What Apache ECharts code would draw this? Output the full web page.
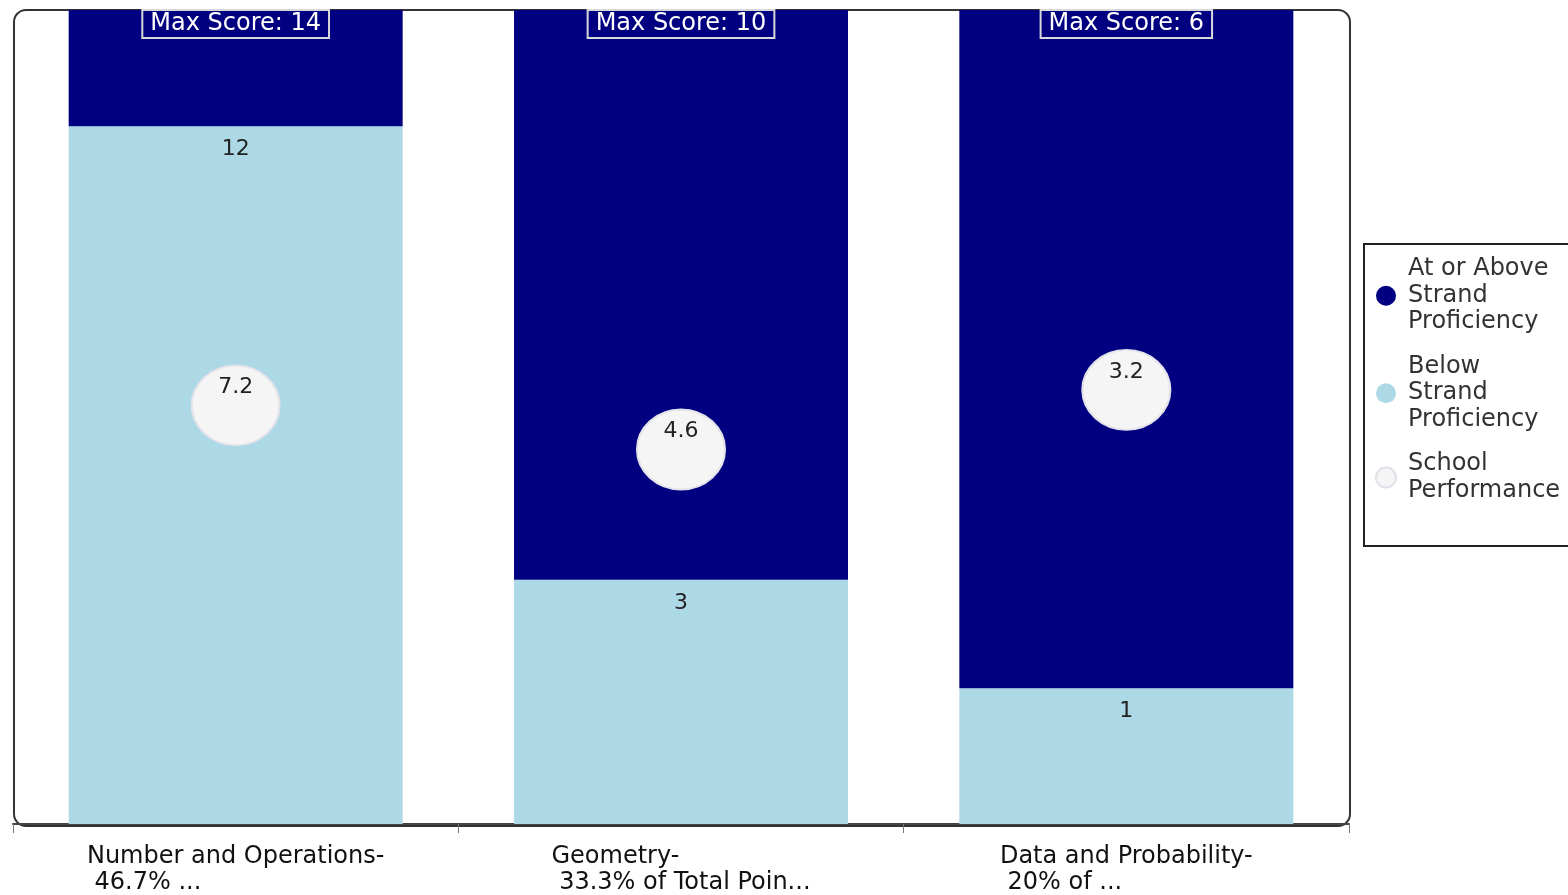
<!DOCTYPE html>
<html>
<head>
<meta charset="utf-8">
<script src="https://cdn.jsdelivr.net/npm/echarts@6/dist/echarts.min.js"></script>
<style>
  html, body { margin: 0; padding: 0; background: #fff; }
  #main { width: 1568px; height: 895px; }
</style>
</head>
<body>
<div id="main"></div>
<script>
const strands = ['Number and Operations-', 'Geometry-', 'Data and Probability-']
const strandNotes = [' 46.7% ...', ' 33.3% of Total Poin...', ' 20% of ...']
const maxScores = [14, 10, 6]
const belowScores = [12, 3, 1]
const schoolScores = [7.2, 4.6, 3.2]

const font = 'DejaVu Sans, Verdana, sans-serif'
const categories = strands.map((s, i) => s + '\n' + strandNotes[i])

// bars are drawn as share of each strand's max score
const belowShare = belowScores.map((v, i) => v / maxScores[i])
const aboveShare = belowScores.map((v, i) => (maxScores[i] - v) / maxScores[i])
const schoolShare = schoolScores.map((v, i) => [i, v / maxScores[i]])

const chart = echarts.init(document.getElementById('main'))

const option = {
  animation: false,
  textStyle: { fontFamily: font },
  grid: { left: 13, right: 219, top: 10, bottom: 70 },
  graphic: [{
    type: 'rect',
    left: 13,
    top: 9,
    z: -1,
    shape: { width: 1336, height: 816, r: 12 },
    style: { fill: '#fff', stroke: '#333', lineWidth: 2 }
  }],
  legend: {
    orient: 'vertical',
    left: 1364,
    top: 244,
    padding: [12, 40, 42, 11],
    itemGap: 18,
    itemWidth: 20,
    itemHeight: 20,
    borderColor: '#222',
    borderWidth: 2,
    icon: 'circle',
    data: ['At or Above Strand Proficiency', 'Below Strand Proficiency', 'School Performance'],
    formatter: (name) => ({
      'At or Above Strand Proficiency': 'At or Above\nStrand\nProficiency',
      'Below Strand Proficiency': 'Below\nStrand\nProficiency',
      'School Performance': 'School\nPerformance'
    })[name],
    textStyle: { fontFamily: font, fontSize: 24, color: '#333', lineHeight: 26.5, padding: [0, 0, 0, 7] }
  },
  xAxis: {
    type: 'category',
    data: categories,
    axisLine: { lineStyle: { color: '#444', width: 2 } },
    axisTick: { show: true, length: 9, lineStyle: { color: '#777' } },
    axisLabel: {
      margin: 20,
      formatter: (val) => val.split('\n').map(l => '{a|' + l + '}').join('\n'),
      rich: {
        a: { align: 'left', fontFamily: font, fontSize: 24, color: '#111', lineHeight: 26 }
      }
    }
  },
  yAxis: {
    type: 'value',
    min: 0,
    max: 1,
    show: false,
    splitLine: { show: false }
  },
  series: [
    {
      name: 'Below Strand Proficiency',
      type: 'bar',
      stack: 'score',
      barWidth: '75%',
      itemStyle: { color: '#add8e6' },
      label: {
        show: true,
        position: 'insideTop',
        distance: 12,
        formatter: (p) => belowScores[p.dataIndex],
        fontFamily: font,
        fontSize: 22,
        color: '#222'
      },
      data: belowShare
    },
    {
      name: 'At or Above Strand Proficiency',
      type: 'bar',
      stack: 'score',
      barWidth: '75%',
      itemStyle: { color: '#000080' },
      label: {
        show: true,
        position: 'insideTop',
        distance: 0,
        formatter: (p) => 'Max Score: ' + maxScores[p.dataIndex],
        fontFamily: font,
        fontSize: 24,
        color: '#fff',
        borderColor: '#d8d8d8',
        borderWidth: 2,
        padding: [2, 8, 2, 8]
      },
      data: aboveShare
    },
    {
      name: 'School Performance',
      type: 'scatter',
      symbol: 'circle',
      symbolSize: [88, 80],
      z: 5,
      itemStyle: {
        color: '#f5f5f5',
        opacity: 1,
        borderColor: '#e2e2ea',
        borderWidth: 2
      },
      label: {
        show: true,
        position: 'inside',
        offset: [0, -18],
        formatter: (p) => schoolScores[p.dataIndex],
        fontFamily: font,
        fontSize: 22,
        color: '#222'
      },
      data: schoolShare
    }
  ]
}

chart.setOption(option)
</script>
</body>
</html>
